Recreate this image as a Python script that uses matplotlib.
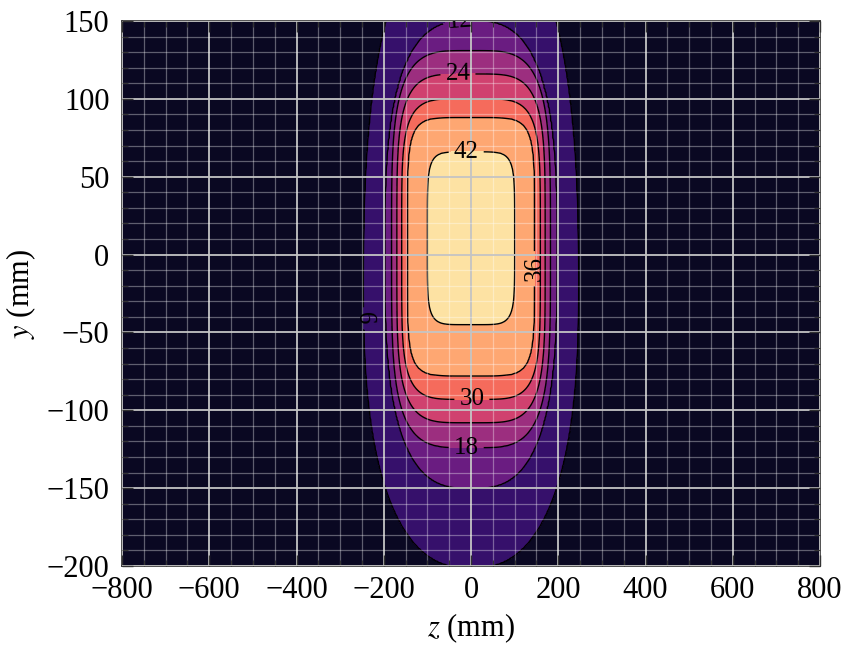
import numpy as np
import matplotlib
matplotlib.use("Agg")
import matplotlib.pyplot as plt
from matplotlib.ticker import MultipleLocator

plt.rcParams["font.family"] = ["Liberation Serif", "DejaVu Serif"]
plt.rcParams["mathtext.fontset"] = "stix"

# Contour levels of the field and the outline of each level:
# half width along z, top / bottom edge and widest row along y, corner squareness.
levels = [0, 6, 12, 18, 24, 30, 36, 42, 48]
half_width = [420, 246, 197, 182, 170, 159, 146, 100, 40]
top_edge = [400, 215, 150, 131, 116, 100, 88, 66, 30]
bottom_edge = [-420, -201, -150, -124, -108, -93, -78, -45, -10]
widest_y = [-10, -20, 0, 3.5, 4, 3.5, 5, 10.5, 10]
squareness = [3.0, 2.5, 2.9, 4.0, 4.5, 5.0, 6.0, 6.0, 6.0]

line_levels = [6, 12, 18, 24, 30, 36, 42]
label_spots = [(-236, -41), (-25, 149), (-11, -123), (-30, 117),
               (2, -92), (149, -9), (-11, 67)]

z_ticks = [-800, -600, -400, -200, 0, 200, 400, 600, 800]
y_ticks = [-200, -150, -100, -50, 0, 50, 100, 150]

# Build the field on a grid: value L where the point sits on the outline of level L.
z = np.linspace(-800, 800, 641)
y = np.linspace(-200, 150, 351)
Z, Y = np.meshgrid(z, y)

L_fine = np.linspace(levels[0], levels[-1], 961)
a_f = np.interp(L_fine, levels, half_width)
t_f = np.interp(L_fine, levels, top_edge)
b_f = np.interp(L_fine, levels, bottom_edge)
m_f = np.interp(L_fine, levels, widest_y)
n_f = np.interp(L_fine, levels, squareness)


def measure(i):
    dy = Y - m_f[i]
    span = np.where(dy > 0, t_f[i] - m_f[i], m_f[i] - b_f[i])
    return (np.abs(Z) / a_f[i]) ** n_f[i] + (np.abs(dy) / span) ** n_f[i]


F = np.zeros_like(Z)
s_prev = measure(0)
for i in range(1, len(L_fine)):
    s_cur = measure(i)
    cross = (s_prev <= 1) & (s_cur > 1)
    frac = (1 - s_prev[cross]) / (s_cur[cross] - s_prev[cross])
    F[cross] = L_fine[i - 1] + frac * (L_fine[i] - L_fine[i - 1])
    s_prev = s_cur
F[s_prev <= 1] = levels[-1]

fig = plt.figure(figsize=(8.46, 6.47), dpi=100)
ax = fig.add_axes([0.1442, 0.1252, 0.9693 - 0.1442, 0.9675 - 0.1252])

ax.contourf(Z, Y, F, levels=levels, cmap="magma", zorder=1)
cs = ax.contour(Z, Y, F, levels=line_levels, colors="black", linewidths=1.0, zorder=2)
ax.clabel(cs, inline=True, fontsize=18, fmt="%d", manual=label_spots)

ax.set_xlim(-800, 800)
ax.set_ylim(-200, 150)
ax.set_xticks(z_ticks)
ax.set_yticks(y_ticks)
ax.xaxis.set_minor_locator(MultipleLocator(50))
ax.yaxis.set_minor_locator(MultipleLocator(10))

ax.grid(which="major", color="#c4c4c4", linewidth=1.3, zorder=3)
ax.grid(which="minor", color="white", alpha=0.35, linewidth=0.9, zorder=3)
ax.set_axisbelow(False)

ax.tick_params(which="both", direction="in", top=True, right=True, colors="#333333",
               labelcolor="black", labelsize=22)
ax.tick_params(which="major", length=8, width=1.0)
ax.tick_params(which="minor", length=4, width=0.8)
ax.tick_params(axis="y", pad=9)
ax.tick_params(axis="x", pad=7)
for sp in ax.spines.values():
    sp.set_color("#333333")
    sp.set_linewidth(1.2)

ax.set_xlabel("$z$ (mm)", fontsize=22, labelpad=5)
ax.set_ylabel("$y$ (mm)", fontsize=22, labelpad=6)

fig.savefig("out.png", dpi=100)
